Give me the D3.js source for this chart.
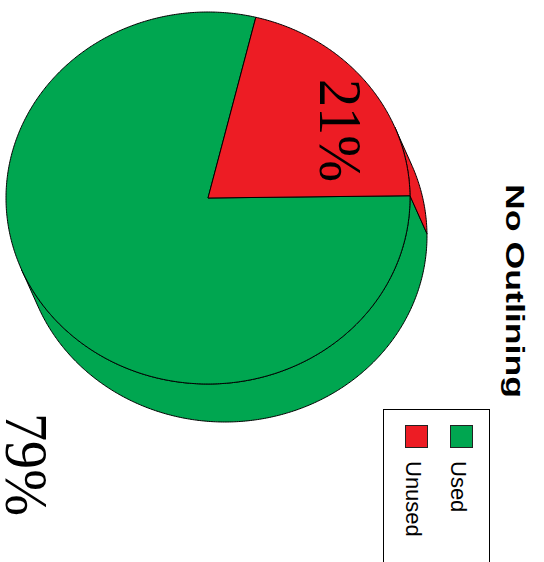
<!DOCTYPE html>
<html>
<head>
<meta charset="utf-8">
<script src="https://cdn.jsdelivr.net/npm/d3@7"></script>
<style>
html,body{margin:0;padding:0;background:#fff;}
svg{display:block;}
.serif{font-family:"Liberation Serif","DejaVu Serif",serif;}
.sans{font-family:"Liberation Sans","DejaVu Sans",sans-serif;}
</style>
</head>
<body>
<svg id="chart" width="544" height="562"></svg>
<script>
// ---- data ----
const categories = ["Used", "Unused"];
const values = [79, 21];
const colors = ["#00a650", "#ed1c24"];
const percentLabels = ["79%", "21%"];
const chartTitle = "No Outlining";

// ---- layout ----
const cx = 208, cy = 198, rx = 202, ry = 186; // top face ellipse
const dx = 17, dy = 38;                        // depth offset
const startDeg = 89.3;
const deg = Math.PI / 180;

const svg = d3.select("#chart");

const pie = d3.pie().sort(null)
  .startAngle(startDeg * deg)
  .endAngle((startDeg + 360) * deg);
const arcs = pie(values);

const ex = d3.scaleLinear().domain([-1, 1]).range([cx - rx, cx + rx]);
const ey = d3.scaleLinear().domain([-1, 1]).range([cy - ry, cy + ry]);
const pt = (a, ox = 0, oy = 0) => [ex(Math.sin(a)) + ox, ey(-Math.cos(a)) + oy];

const t0 = Math.atan(-(dx * ry) / (dy * rx));
const v0 = t0 + Math.PI / 2, v1 = v0 + Math.PI;

const line = d3.line();
const gSide = svg.append("g");
const gTop = svg.append("g");

arcs.forEach((d, i) => {
  [0, 2 * Math.PI, -2 * Math.PI].forEach(shift => {
    const a0 = Math.max(d.startAngle, v0 + shift);
    const a1 = Math.min(d.endAngle, v1 + shift);
    if (a1 > a0) {
      const n = Math.max(2, Math.ceil((a1 - a0) / (0.5 * deg)));
      const angs = d3.range(n + 1).map(k => a0 + (a1 - a0) * k / n);
      const pts = angs.map(a => pt(a))
        .concat(angs.slice().reverse().map(a => pt(a, dx, dy)));
      gSide.append("path")
        .attr("d", line(pts) + "Z")
        .attr("fill", colors[i])
        .attr("stroke", "#000")
        .attr("stroke-width", 1)
        .attr("stroke-linejoin", "round");
    }
  });
  const n = Math.ceil((d.endAngle - d.startAngle) / (0.5 * deg));
  const angs = d3.range(n + 1).map(k => d.startAngle + (d.endAngle - d.startAngle) * k / n);
  const pts = [[cx, cy]].concat(angs.map(a => pt(a)));
  gTop.append("path")
    .attr("d", line(pts) + "Z")
    .attr("fill", colors[i])
    .attr("stroke", "#000")
    .attr("stroke-width", 1)
    .attr("stroke-linejoin", "round");
});

// percent labels (rotated)
const labelPos = [[6, 413], [320, 79]];
percentLabels.forEach((t, i) => {
  svg.append("text")
    .attr("class", "serif")
    .attr("transform", `translate(${labelPos[i][0]},${labelPos[i][1]}) rotate(90)`)
    .style("font-size", "61px")
    .attr("textLength", 103)
    .attr("lengthAdjust", "spacingAndGlyphs")
    .attr("fill", "#000")
    .text(t);
});

// title
svg.append("text")
  .attr("class", "sans")
  .attr("transform", "translate(506,184) rotate(90)")
  .style("font-weight", "bold")
  .style("font-size", "26px")
  .attr("textLength", 214)
  .attr("lengthAdjust", "spacingAndGlyphs")
  .attr("fill", "#000")
  .text(chartTitle);

// legend
const legend = svg.append("g");
legend.append("rect")
  .attr("x", 383.5).attr("y", 409.5)
  .attr("width", 106).attr("height", 200)
  .attr("fill", "#fff").attr("stroke", "#000").attr("stroke-width", 1);
categories.forEach((c, i) => {
  const x = 450 - i * 45;
  legend.append("rect")
    .attr("x", x + 0.5).attr("y", 425.5)
    .attr("width", 22).attr("height", 22)
    .attr("fill", colors[i]).attr("stroke", "#222").attr("stroke-width", 1);
  legend.append("text")
    .attr("class", "sans")
    .attr("transform", `translate(${x + 1},461) rotate(90)`)
    .style("font-size", "22px")
    .attr("fill", "#000")
    .text(c);
});
</script>
</body>
</html>
